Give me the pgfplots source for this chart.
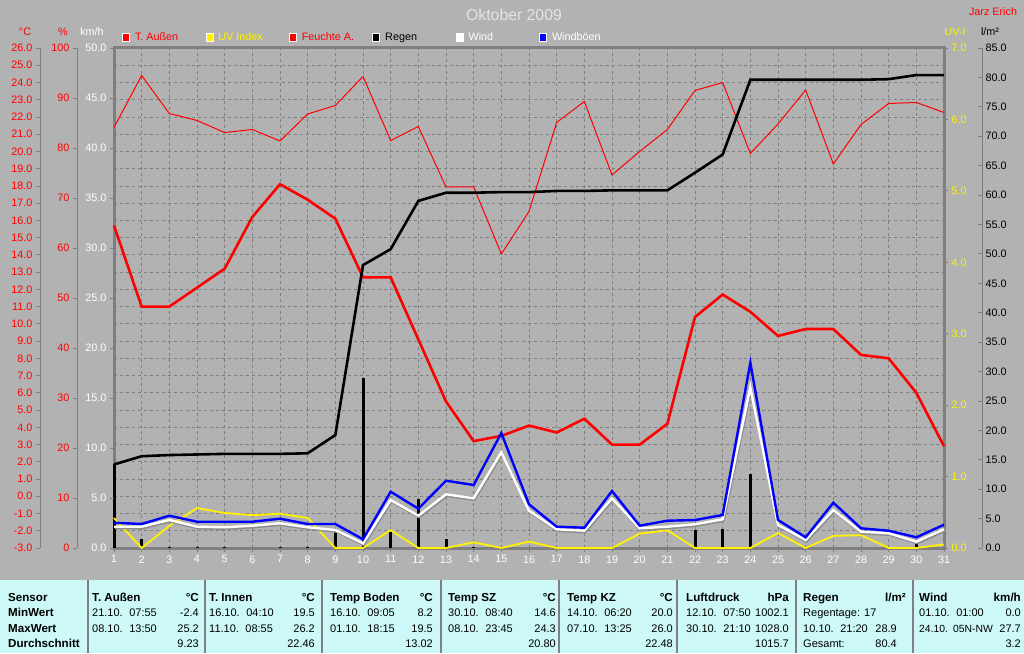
\documentclass[border=0pt]{standalone}
\usepackage{pgfplots}
\usepackage{pgfplotstable}
\pgfplotsset{compat=1.18}
\usepackage{fontspec}
\setmainfont{Liberation Sans}
\definecolor{bg}{HTML}{B2B2B2}
\definecolor{axgray}{HTML}{7F7F7F}
\definecolor{tabbg}{HTML}{CCF8F8}
\definecolor{ttl}{HTML}{E4E4E4}
\definecolor{shad}{HTML}{8C8C8C}
\newcommand\fs{\fontsize{10.8}{13}\selectfont}
\newcommand\ts{\fontsize{11}{13}\selectfont}
\newcommand\tb{\fontsize{11.6}{13}\selectfont\bfseries}
\newcommand\gap{\hspace{6.5pt}}

\pgfplotstableread{
day temp hum raincum rain uv gust wind
1 15.7 84.1 14.2 14.2 0.42 2.53 2.13
2 11.0 94.5 15.6 1.5 0.00 2.40 2.13
3 11.0 86.9 15.8 0.2 0.31 3.23 2.80
4 12.1 85.5 15.9 0.1 0.56 2.63 2.13
5 13.2 83.1 16.0 0.1 0.49 2.63 2.07
6 16.2 83.7 16.0 0.0 0.46 2.63 2.23
7 18.1 81.4 16.0 0.1 0.48 2.93 2.47
8 17.2 86.8 16.1 0.1 0.42 2.40 2.07
9 16.1 88.5 19.2 3.2 0.00 2.40 1.80
10 12.7 94.3 48.1 28.9 0.00 0.87 0.47
11 12.7 81.5 50.8 2.8 0.25 5.63 4.80
12 9.1 84.3 59.0 8.3 0.00 3.93 3.23
13 5.5 72.2 60.4 1.5 0.00 6.73 5.37
14 3.2 72.2 60.4 0.1 0.08 6.30 4.97
15 3.5 58.8 60.5 0.1 0.00 11.50 9.57
16 4.1 67.3 60.5 0.0 0.09 4.37 3.73
17 3.7 85.1 60.7 0.2 0.00 2.13 1.87
18 4.5 89.3 60.7 0.0 0.00 2.03 1.73
19 3.0 74.6 60.8 0.1 0.00 5.70 4.97
20 3.0 79.3 60.8 0.0 0.20 2.23 1.97
21 4.2 83.7 60.8 0.0 0.25 2.73 2.13
22 10.4 91.5 63.8 3.0 0.00 2.80 2.37
23 11.7 93.1 66.9 3.3 0.00 3.30 2.87
24 10.7 78.9 79.6 12.6 0.00 18.53 16.07
25 9.3 84.8 79.6 0.0 0.21 2.80 2.30
26 9.7 91.6 79.6 0.0 0.00 1.07 0.80
27 9.7 76.8 79.6 0.0 0.17 4.53 3.80
28 8.2 84.7 79.6 0.0 0.18 1.97 1.63
29 8.0 88.9 79.7 0.1 0.00 1.73 1.47
30 6.0 89.1 80.4 0.8 0.00 1.07 0.63
31 2.9 87.1 80.4 0.0 0.05 2.33 1.87
}\data

\pgfplotsset{
  base/.style={scale only axis, width=830pt, height=500pt, at={(114pt,105pt)}, anchor=south west,
    xmin=1, xmax=31, axis line style={-, draw=axgray, line width=1pt}, tick align=outside,
    major tick length=4pt, tick style={draw=axgray, line width=0.8pt},
    every tick label/.append style={font=\fs},
    /pgf/number format/assume math mode=true, clip=false, scaled y ticks=false},
  dec1/.style={yticklabel style={/pgf/number format/fixed, /pgf/number format/fixed zerofill, /pgf/number format/precision=1}},
}

\begin{document}
\begin{tikzpicture}[x=1pt,y=1pt]
\fill[bg] (0,0) rectangle (1024,653);
\fill[tabbg] (0,0) rectangle (1024,73);
\foreach \xx in {88,205,322,441,559,677,796,913} {\draw[axgray, line width=1.5pt] (\xx,0) -- (\xx,73);}
\draw[axgray, line width=3pt] (114,105) rectangle (944,605);

% title and unit labels
\node[text=ttl, font=\fontsize{15.8}{18}\selectfont] at (514,638) {Oktober 2009};
\node[text=red, font=\fs] at (993,641) {Jarz Erich};
\node[text=red, font=\fs] at (25,621) {°C};
\node[text=red, font=\fs] at (63,621) {\%};
\node[text=white, font=\fs] at (92,621) {km/h};
\node[text=yellow, font=\fs] at (955,621) {UV-I};
\node[text=black, font=\fs] at (990,621) {l/m²};

% Axis A: degrees C, grid, legend
\begin{axis}[base, dec1, ymin=-3, ymax=26, ytick={-3,-2,...,26},
  xtick={1,...,31},
  axis x line*=bottom, axis y line*=left,
  x axis line style={draw=none},
  y axis line style={xshift=-74pt},
  ytick style={xshift=-74pt},
  yticklabel style={xshift=-74pt, text=red},
  xticklabel style={text=white},
  grid=major, grid style={draw=axgray, line width=0.8pt, dash pattern=on 3pt off 3pt},
  legend columns=6,
  legend style={at={(axis description cs:0.00964,1.021)}, anchor=west, draw=none, fill=none,
    inner xsep=0pt, inner ysep=0pt, nodes={inner sep=0pt, font=\fs}, column sep=0pt,
    /tikz/every odd column/.append style={column sep=5pt}},
  legend cell align=left]
\addlegendimage{legend image code/.code={\filldraw[fill=red, draw=white, line width=0.8pt] (0pt,-4pt) rectangle (7pt,4pt);}}
\addlegendentry{\makebox[70.6pt][l]{\textcolor{red}{T. Außen}}}
\addlegendimage{legend image code/.code={\filldraw[fill=yellow, draw=white, line width=0.8pt] (0pt,-4pt) rectangle (7pt,4pt);}}
\addlegendentry{\makebox[70.6pt][l]{\textcolor{yellow}{UV Index}}}
\addlegendimage{legend image code/.code={\filldraw[fill=red, draw=white, line width=0.8pt] (0pt,-4pt) rectangle (7pt,4pt);}}
\addlegendentry{\makebox[70.6pt][l]{\textcolor{red}{Feuchte A.}}}
\addlegendimage{legend image code/.code={\filldraw[fill=black, draw=white, line width=0.8pt] (0pt,-4pt) rectangle (7pt,4pt);}}
\addlegendentry{\makebox[70.6pt][l]{\textcolor{black}{Regen}}}
\addlegendimage{legend image code/.code={\filldraw[fill=white, draw=white, line width=0.8pt] (0pt,-4pt) rectangle (7pt,4pt);}}
\addlegendentry{\makebox[70.6pt][l]{\textcolor{white}{Wind}}}
\addlegendimage{legend image code/.code={\filldraw[fill=blue, draw=white, line width=0.8pt] (0pt,-4pt) rectangle (7pt,4pt);}}
\addlegendentry{\makebox[70.6pt][l]{\textcolor{white}{Windböen}}}
\addplot[red, line width=2.6pt, forget plot] table[x=day, y=temp] {\data};
\end{axis}

% Axis B: humidity %
\begin{axis}[base, ymin=0, ymax=100, ytick={0,10,...,100}, hide x axis, axis y line*=left,
  y axis line style={xshift=-37pt}, ytick style={xshift=-37pt}, yticklabel style={xshift=-37pt, text=red}]
\addplot[red, line width=1pt] table[x=day, y=hum] {\data};
\end{axis}

% Axis E: rain l/m2
\begin{axis}[base, dec1, ymin=0, ymax=85, ytick={0,5,...,85}, hide x axis, axis y line*=right, tick align=inside,
  y axis line style={xshift=38pt}, ytick style={xshift=38pt}, yticklabel style={xshift=38pt, text=black}]
\addplot[black, line width=2.6pt] table[x=day, y=raincum] {\data};
\addplot[black, ycomb, line width=3pt] table[x=day, y=rain] {\data};
\end{axis}

% Axis D: UV index
\begin{axis}[base, dec1, ymin=0, ymax=7, ytick={0,...,7}, hide x axis, axis y line*=right,
  y axis line style={draw=none}, yticklabel style={text=yellow}]
\addplot[yellow, line width=1.8pt] table[x=day, y=uv] {\data};
\end{axis}

% Axis C: wind km/h
\begin{axis}[base, dec1, ymin=0, ymax=50, ytick={0,5,...,50}, hide x axis, axis y line*=left,
  y axis line style={draw=none}, yticklabel style={text=white}]
\addplot[shad, line width=2.4pt, yshift=-1.5pt, xshift=0.8pt] table[x=day, y=wind] {\data};
\addplot[white, line width=2.4pt] table[x=day, y=wind] {\data};
\addplot[blue, line width=2.4pt] table[x=day, y=gust] {\data};
\end{axis}

% table
\begin{scope}[every node/.style={inner sep=0pt, font=\ts}]
\node[anchor=base west, font=\tb] at (8,51.3) {Sensor};
\node[anchor=base west, font=\tb] at (8,36.3) {MinWert};
\node[anchor=base west, font=\tb] at (8,20.7) {MaxWert};
\node[anchor=base west, font=\tb] at (8,5.3) {Durchschnitt};
% T. Aussen
\node[anchor=base west, font=\tb] at (92,51.3) {T. Außen};
\node[anchor=base east, font=\tb] at (199,51.3) {°C};
\node[anchor=base west] at (92,36.3) {21.10.\gap07:55};
\node[anchor=base east] at (199,36.3) {-2.4};
\node[anchor=base west] at (92,20.7) {08.10.\gap13:50};
\node[anchor=base east] at (199,20.7) {25.2};
\node[anchor=base east] at (199,5.3) {9.23};
% T. Innen
\node[anchor=base west, font=\tb] at (209,51.3) {T. Innen};
\node[anchor=base east, font=\tb] at (315,51.3) {°C};
\node[anchor=base west] at (209,36.3) {16.10.\gap04:10};
\node[anchor=base east] at (315,36.3) {19.5};
\node[anchor=base west] at (209,20.7) {11.10.\gap08:55};
\node[anchor=base east] at (315,20.7) {26.2};
\node[anchor=base east] at (315,5.3) {22.46};
% Temp Boden
\node[anchor=base west, font=\tb] at (330,51.3) {Temp Boden};
\node[anchor=base east, font=\tb] at (433,51.3) {°C};
\node[anchor=base west] at (330,36.3) {16.10.\gap09:05};
\node[anchor=base east] at (433,36.3) {8.2};
\node[anchor=base west] at (330,20.7) {01.10.\gap18:15};
\node[anchor=base east] at (433,20.7) {19.5};
\node[anchor=base east] at (433,5.3) {13.02};
% Temp SZ
\node[anchor=base west, font=\tb] at (448,51.3) {Temp SZ};
\node[anchor=base east, font=\tb] at (556,51.3) {°C};
\node[anchor=base west] at (448,36.3) {30.10.\gap08:40};
\node[anchor=base east] at (556,36.3) {14.6};
\node[anchor=base west] at (448,20.7) {08.10.\gap23:45};
\node[anchor=base east] at (556,20.7) {24.3};
\node[anchor=base east] at (556,5.3) {20.80};
% Temp KZ
\node[anchor=base west, font=\tb] at (567,51.3) {Temp KZ};
\node[anchor=base east, font=\tb] at (673,51.3) {°C};
\node[anchor=base west] at (567,36.3) {14.10.\gap06:20};
\node[anchor=base east] at (673,36.3) {20.0};
\node[anchor=base west] at (567,20.7) {07.10.\gap13:25};
\node[anchor=base east] at (673,20.7) {26.0};
\node[anchor=base east] at (673,5.3) {22.48};
% Luftdruck
\node[anchor=base west, font=\tb] at (686,51.3) {Luftdruck};
\node[anchor=base east, font=\tb] at (789,51.3) {hPa};
\node[anchor=base west] at (686,36.3) {12.10.\gap07:50};
\node[anchor=base east] at (789,36.3) {1002.1};
\node[anchor=base west] at (686,20.7) {30.10.\gap21:10};
\node[anchor=base east] at (789,20.7) {1028.0};
\node[anchor=base east] at (789,5.3) {1015.7};
% Regen
\node[anchor=base west, font=\tb] at (803,51.3) {Regen};
\node[anchor=base east, font=\tb] at (906,51.3) {l/m²};
\node[anchor=base west] at (803,36.3) {Regentage: 17};
\node[anchor=base west] at (803,20.7) {10.10.\gap21:20};
\node[anchor=base east] at (897,20.7) {28.9};
\node[anchor=base west] at (803,5.3) {Gesamt:};
\node[anchor=base east] at (897,5.3) {80.4};
% Wind
\node[anchor=base west, font=\tb] at (919,51.3) {Wind};
\node[anchor=base east, font=\tb] at (1021,51.3) {km/h};
\node[anchor=base west] at (919,36.3) {01.10.\gap01:00};
\node[anchor=base east] at (1021,36.3) {0.0};
\node[anchor=base west, font=\fontsize{10.4}{13}\selectfont] at (919,20.7) {24.10.\hspace{5pt}05N-NW};
\node[anchor=base east] at (1021,20.7) {27.7};
\node[anchor=base east] at (1021,5.3) {3.2};
\end{scope}
\end{tikzpicture}
\end{document}
